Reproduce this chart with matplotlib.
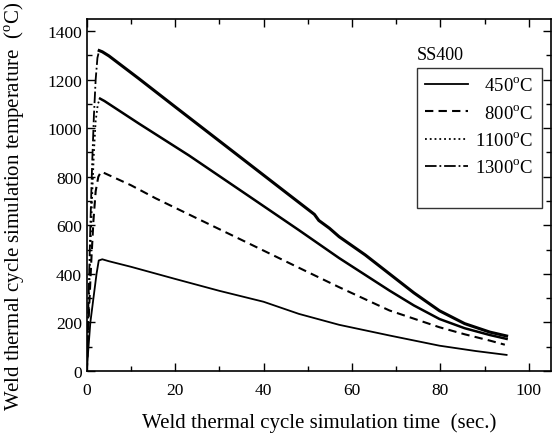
import numpy as np
import matplotlib
matplotlib.use('Agg')
import matplotlib.pyplot as plt
from matplotlib.lines import Line2D

plt.rcParams['font.family'] = ['Liberation Serif', 'DejaVu Serif']
plt.rcParams['mathtext.fontset'] = 'custom'
plt.rcParams['mathtext.rm'] = 'Liberation Serif'

# weld thermal cycles, peak temps 450 / 800 / 1100 / 1300 C
t450 = [0, 0.3, 0.8, 1.5, 2.2, 2.7, 3.5, 5, 10, 20, 30, 40, 48, 57.1, 68.5, 79.8, 88, 95]
T450 = [0, 80, 200, 300, 400, 455, 460, 452, 429, 379, 330, 285, 235, 190, 146, 104, 82, 66]

t800 = [0, 0.5, 1, 1.5, 2, 2.6, 3.2, 4, 10, 15.6, 25, 35, 48, 57.1, 68.5, 79.8, 85.5, 91.2, 94.6]
T800 = [0, 250, 450, 620, 740, 800, 820, 815, 765, 711, 628, 540, 425, 345, 249, 180, 151, 125, 108]

t1100 = [0, 0.4, 0.8, 1.2, 1.6, 2.0, 2.5, 3.0, 4, 11.8, 23.1, 36.7, 48, 57.1, 68.5, 74, 79.8, 85.5, 91.2, 95]
T1100 = [0, 250, 500, 720, 900, 1030, 1100, 1122, 1112, 1019, 888, 720, 580, 465, 331, 270, 214, 176, 148, 132]

t1300 = [0, 0.4, 0.8, 1.2, 1.6, 2.0, 2.4, 2.8, 3.5, 5, 11.8, 20, 35, 45.8, 51.5, 52.5,
         54.9, 57.1, 63, 68.5, 74, 79.8, 85.5, 91.2, 95]
T1300 = [0, 300, 600, 850, 1050, 1200, 1290, 1320, 1315, 1298, 1204, 1088, 877, 725, 645, 620,
         588, 553, 478, 400, 322, 248, 195, 160, 144]

labels = ['\u2007450$^{\\rm o}$C', '\u2007800$^{\\rm o}$C', '1100$^{\\rm o}$C', '1300$^{\\rm o}$C']

fig = plt.figure(figsize=(5.53, 4.35), dpi=100)
ax = fig.add_axes([0.157, 0.145, 0.839, 0.809])

l1, = ax.plot(t450, T450, 'k-', lw=1.3)
l2, = ax.plot(t800, T800, 'k--', lw=1.5, dashes=(4, 2.5))

# rising part drawn with the line style, cooling part looks solid (dense noisy data)
k3 = int(np.argmax(T1100))
l3, = ax.plot(t1100[:k3 + 1], T1100[:k3 + 1], 'k:', lw=1.3)
ax.plot(t1100[k3:], T1100[k3:], 'k-', lw=1.8)
k4 = int(np.argmax(T1300))
l4, = ax.plot(t1300[:k4 + 1], T1300[:k4 + 1], 'k-.', lw=1.3)
ax.plot(t1300[k4:], T1300[k4:], 'k-', lw=2.2)

ax.set_xlim(0, 105)
ax.set_ylim(0, 1450)
ax.set_xticks(np.arange(0, 101, 20))
ax.set_xticks(np.arange(0, 101, 10), minor=True)
ax.set_yticks(np.arange(0, 1401, 200))
ax.set_yticks(np.arange(0, 1451, 100), minor=True)
ax.tick_params(which='both', direction='in', top=True, right=True, labelsize=12.5)
ax.tick_params(which='major', length=6, width=1)
ax.tick_params(which='minor', length=3.5, width=1)
ax.tick_params(axis='x', which='major', pad=8)
for s in ax.spines.values():
    s.set_linewidth(1.2)

ax.set_xlabel('Weld thermal cycle simulation time  (sec.)', fontsize=15, labelpad=10)
ax.set_ylabel('Weld thermal cycle simulation temperature  ($^{\\rm o}$C)', fontsize=15)
ax.yaxis.set_label_coords(-0.13, 0.47)

# empty last row: the original box has extra room at the bottom
blank = Line2D([], [], linestyle='none')
leg = ax.legend([l1, l2, l3, l4, blank], labels + [' '], loc='upper left',
                bbox_to_anchor=(0.711, 0.861), borderaxespad=0, fontsize=13.5,
                frameon=True, fancybox=False, edgecolor='black',
                handlelength=2.3, handletextpad=0.35, labelspacing=0.5, borderpad=0.45)
leg.get_texts()[-1].set_fontsize(5)
leg.get_frame().set_linewidth(1.0)
ax.text(0.711, 0.886, 'SS400', transform=ax.transAxes, fontsize=13, ha='left', va='baseline')

fig.savefig('out.png', dpi=100)
